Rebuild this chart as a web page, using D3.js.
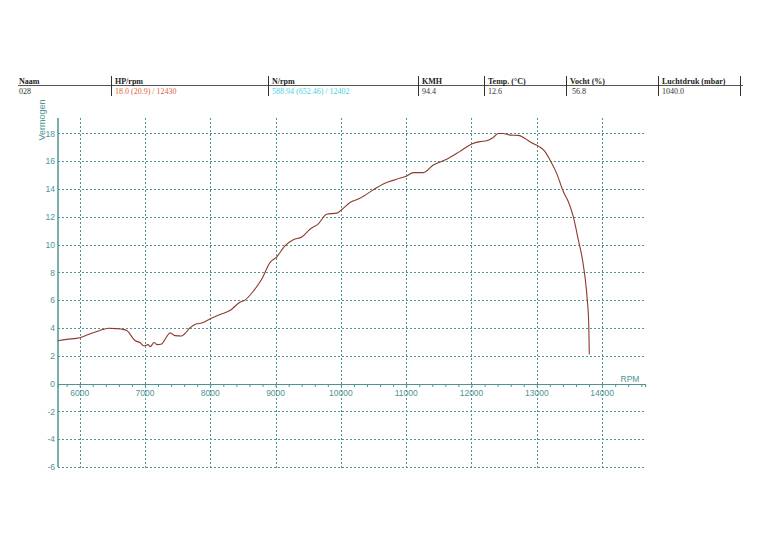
<!DOCTYPE html>
<html>
<head>
<meta charset="utf-8">
<script src="https://cdn.jsdelivr.net/npm/d3@7"></script>
<style>
  body { margin: 0; background: #fff; }
  svg { display: block; }
</style>
</head>
<body>
<script>
// header table
var headerLabels = ["Naam", "HP/rpm", "N/rpm", "KMH", "Temp. (\u00B0C)", "Vocht (%)", "Luchtdruk (mbar)"];
var headerValues = ["028", "18.0 (20.9) / 12430", "588.94 (652.46) / 12402", "94.4", "12.6", "56.8", "1040.0"];

// power curve (rpm, vermogen)
var rpm = [5668, 5800, 6000, 6184, 6300, 6440, 6560, 6668, 6720, 6847, 6923, 6985, 7050, 7080,
  7138, 7190, 7255, 7332, 7383, 7460, 7562, 7612, 7689, 7791, 7868, 8000, 8148, 8301, 8454,
  8530, 8658, 8787, 8914, 9016, 9143, 9271, 9399, 9527, 9654, 9782, 9936, 10011, 10139, 10292,
  10496, 10649, 10854, 11007, 11109, 11262, 11415, 11620, 11824, 12003, 12130, 12233, 12334,
  12411, 12487, 12590, 12717, 12819, 12922, 13024, 13126, 13202, 13304, 13407, 13482, 13559,
  13636, 13700, 13740, 13773, 13795, 13804];
var vermogen = [3.08, 3.18, 3.3, 3.62, 3.8, 3.98, 3.95, 3.9, 3.82, 3.1, 2.95, 2.72, 2.8, 2.65,
  2.95, 2.8, 2.85, 3.37, 3.65, 3.45, 3.42, 3.6, 4.0, 4.3, 4.35, 4.66, 4.97, 5.25, 5.85,
  6.0, 6.64, 7.5, 8.7, 9.1, 9.9, 10.34, 10.54, 11.1, 11.49, 12.18, 12.26, 12.5, 13.02, 13.33,
  13.93, 14.36, 14.7, 14.93, 15.17, 15.17, 15.72, 16.13, 16.7, 17.23, 17.4, 17.46, 17.7,
  17.99, 17.99, 17.87, 17.85, 17.63, 17.32, 17.08, 16.68, 16.08, 15.12, 13.8, 13.09, 12.01,
  10.34, 8.9, 7.6, 6.04, 4.37, 2.1];

var xTicks = [6000, 7000, 8000, 9000, 10000, 11000, 12000, 13000, 14000];
var yTicks = [-6, -4, -2, 0, 2, 4, 6, 8, 10, 12, 14, 16, 18];

var svgConfig = {
  width: 760,
  height: 537,
  left: 58,
  right: 645,
  top: 118,
  bottom: 467
};

var teal = "#4e9494";
var svg = d3.select("body").append("svg")
  .attr("width", svgConfig.width)
  .attr("height", svgConfig.height);

// ---- header table ----
var colX = [18, 111, 268, 418, 484, 566, 658];
var colSep = [111, 268, 418, 484, 566, 658, 740];

svg.append("line")
  .attr("x1", 18).attr("x2", 743)
  .attr("y1", 85.5).attr("y2", 85.5)
  .attr("stroke", "#555").attr("stroke-width", 1);

svg.selectAll(".sep").data(colSep).enter().append("line")
  .attr("x1", function(d) { return d + 0.5; })
  .attr("x2", function(d) { return d + 0.5; })
  .attr("y1", 76).attr("y2", 96)
  .attr("stroke", "#333");

svg.selectAll(".hlab").data(headerLabels).enter().append("text")
  .attr("x", function(d, i) { return colX[i] + (i ? 4 : 1); })
  .attr("y", 84)
  .attr("font-family", "Liberation Serif, serif")
  .attr("font-weight", "bold")
  .attr("font-size", 8)
  .attr("fill", "#222")
  .text(function(d) { return d; });

var valColors = ["#333", "#e5603c", "#48d2e0", "#333", "#333", "#333", "#333"];
svg.selectAll(".hval").data(headerValues).enter().append("text")
  .attr("x", function(d, i) { return colX[i] + (i ? (i == 5 ? 6 : 4) : 1); })
  .attr("y", 94)
  .attr("font-family", "Liberation Serif, serif")
  .attr("font-size", 8)
  .attr("fill", function(d, i) { return valColors[i]; })
  .text(function(d) { return d; });

// ---- chart ----
var xScale = d3.scaleLinear()
  .domain([5668, 14657])
  .range([svgConfig.left, svgConfig.right]);

var yScale = d3.scaleLinear()
  .domain([-6, 18])
  .range([svgConfig.bottom, 133.3]);

// grid
svg.append("g").selectAll("line").data(yTicks.filter(function(d) { return d != 0; }))
  .enter().append("line")
  .attr("x1", svgConfig.left).attr("x2", svgConfig.right)
  .attr("y1", function(d) { return Math.round(yScale(d)) + 0.5; })
  .attr("y2", function(d) { return Math.round(yScale(d)) + 0.5; })
  .attr("stroke", teal).attr("stroke-dasharray", "2,2");

svg.append("g").selectAll("line").data(xTicks)
  .enter().append("line")
  .attr("x1", function(d) { return Math.round(xScale(d)) + 0.5; })
  .attr("x2", function(d) { return Math.round(xScale(d)) + 0.5; })
  .attr("y1", svgConfig.top).attr("y2", svgConfig.bottom + 3)
  .attr("stroke", teal).attr("stroke-dasharray", "2,2");

// x axis at zero
var xAxis = d3.axisBottom(xScale)
  .tickValues(d3.range(5800, 14700, 200))
  .tickSize(3)
  .tickFormat("");

var gx = svg.append("g")
  .attr("transform", "translate(0," + Math.round(yScale(0)) + ")")
  .call(xAxis);
gx.select(".domain").attr("stroke", teal).attr("stroke-width", 1.2);
gx.selectAll(".tick line").attr("stroke", teal);

svg.append("g").selectAll("text").data(xTicks).enter().append("text")
  .attr("x", function(d) { return xScale(d); })
  .attr("y", yScale(0) + 12)
  .attr("text-anchor", "middle")
  .attr("font-family", "Liberation Sans, Arial, sans-serif")
  .attr("font-size", 8.5)
  .attr("fill", teal)
  .text(function(d) { return d; });

// y axis
var yAxis = d3.axisLeft(yScale)
  .tickValues(yTicks)
  .tickSize(0)
  .tickPadding(3)
  .tickFormat(function(d) { return String(d); });

var gy = svg.append("g")
  .attr("transform", "translate(" + svgConfig.left + ",0)")
  .call(yAxis);
gy.select(".domain")
  .attr("d", "M0," + svgConfig.top + "V" + svgConfig.bottom)
  .attr("stroke", teal).attr("stroke-width", 1.5);
gy.selectAll(".tick text")
  .attr("font-family", "Liberation Sans, Arial, sans-serif")
  .attr("font-size", 8.5)
  .attr("fill", teal);

svg.append("text")
  .attr("transform", "translate(45,120) rotate(-90)")
  .attr("text-anchor", "middle")
  .attr("font-family", "Liberation Sans, Arial, sans-serif")
  .attr("font-size", 9)
  .attr("fill", teal)
  .text("Vermogen");

svg.append("text")
  .attr("x", 630).attr("y", yScale(0) - 2)
  .attr("text-anchor", "middle")
  .attr("font-family", "Liberation Sans, Arial, sans-serif")
  .attr("font-size", 8.5)
  .attr("fill", teal)
  .text("RPM");

// power line
var line = d3.line()
  .x(function(d, i) { return xScale(rpm[i]); })
  .y(function(d) { return yScale(d); })
  .curve(d3.curveMonotoneX);

svg.append("path")
  .attr("d", line(vermogen))
  .attr("fill", "none")
  .attr("stroke", "#8c3a2c")
  .attr("stroke-width", 1.1);
</script>
</body>
</html>
